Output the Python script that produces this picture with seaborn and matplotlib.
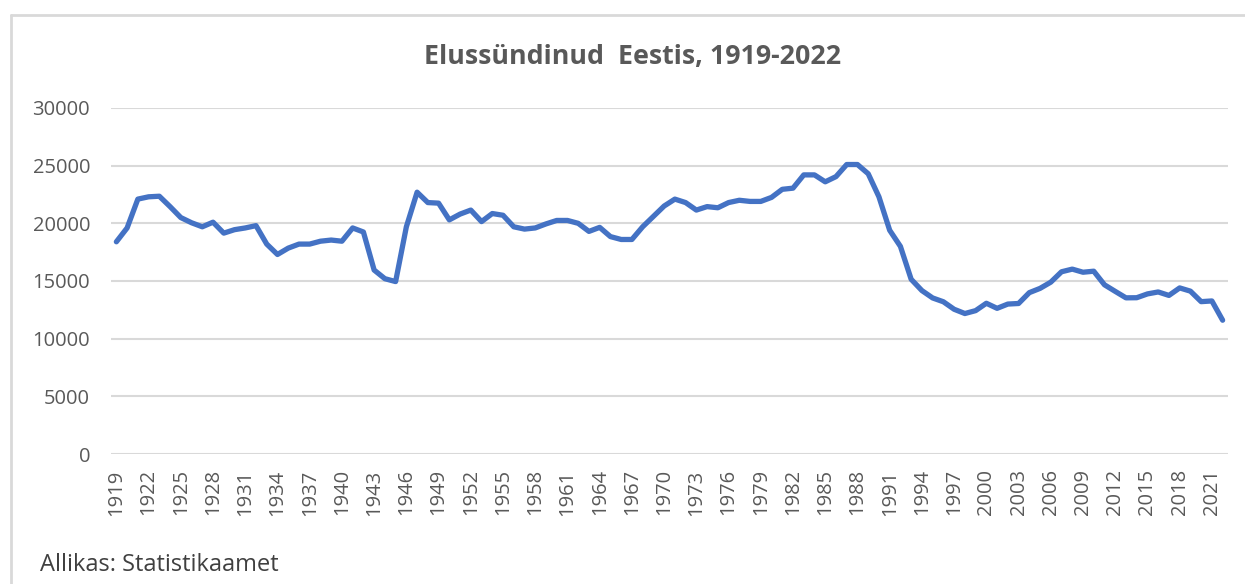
import matplotlib
matplotlib.use("Agg")
import matplotlib.pyplot as plt
import numpy as np
import pandas as pd
import seaborn as sns
from matplotlib.lines import Line2D

# Elussündinud Eestis (births per year)
years = list(range(1919, 2023))
births = [
    18400, 19600, 22100, 22300, 22350, 21450, 20500, 20050, 19700, 20100,  # 1919-1928
    19150, 19450, 19600, 19800, 18200, 17300, 17850, 18200, 18200, 18450,  # 1929-1938
    18550, 18450, 19600, 19250, 15950, 15200, 14950, 19700, 22700, 21800,  # 1939-1948
    21750, 20300, 20800, 21150, 20150, 20850, 20700, 19700, 19500, 19600,  # 1949-1958
    19950, 20250, 20250, 20000, 19300, 19650, 18850, 18600, 18600, 19700,  # 1959-1968
    20600, 21500, 22100, 21800, 21150, 21450, 21350, 21800, 22000, 21900,  # 1969-1978
    21900, 22250, 22950, 23050, 24200, 24200, 23600, 24050, 25100, 25100,  # 1979-1988
    24300, 22300, 19400, 18000, 15150, 14170, 13530, 13200, 12550, 12180,  # 1989-1998
    12430, 13070, 12630, 13000, 13050, 13990, 14360, 14900, 15800, 16030,  # 1999-2008
    15760, 15850, 14670, 14100, 13540, 13550, 13880, 14050, 13750, 14400,  # 2009-2018
    14120, 13210, 13270, 11600,                                            # 2019-2022
]
tick_years = years[::3]
y_ticks = [0, 5000, 10000, 15000, 20000, 25000, 30000]

df = pd.DataFrame({"aasta": years, "elussündinud": births})

sns.set_theme(style="white")
plt.rcParams["font.family"] = ["Open Sans", "DejaVu Sans"]

W, H = 1245, 584
fig = plt.figure(figsize=(W / 100, H / 100), dpi=100)
ax = fig.add_axes([111 / W, 1 - 454 / H, (1228 - 111) / W, (454 - 108) / H])

sns.lineplot(data=df, x="aasta", y="elussündinud", ax=ax,
             color="#4472C4", linewidth=3.8, solid_capstyle="round",
             solid_joinstyle="round")

ax.set_xlim(years[0] - 0.5, years[-1] + 0.5)
ax.set_ylim(0, 30000)
ax.set_yticks(y_ticks)
ax.set_yticklabels([str(v) for v in y_ticks])
ax.set_xticks(tick_years)
ax.set_xticklabels([str(y) for y in tick_years], rotation=90)
ax.set_xlabel("")
ax.set_ylabel("")

ax.yaxis.grid(True, color="#D9D9D9", linewidth=1.5)
ax.xaxis.grid(False)
for s in ax.spines.values():
    s.set_visible(False)
ax.tick_params(axis="both", length=0, labelsize=14.5, labelcolor="#595959")
ax.tick_params(axis="y", pad=15)
ax.tick_params(axis="x", pad=11)

# chart frame (cropped at right/bottom)
fig.add_artist(Line2D([11 / W, 11 / W], [0, 1 - 15 / H], color="#D9D9D9", linewidth=2))
fig.add_artist(Line2D([11 / W, 1], [1 - 15 / H, 1 - 15 / H], color="#D9D9D9", linewidth=2))

fig.text(633 / W, 1 - 57 / H, "Elussündinud  Eestis, 1919-2022",
         ha="center", va="center", fontsize=19.3, fontweight="bold", color="#595959")
fig.text(40 / W, 1 - 565 / H, "Allikas: Statistikaamet",
         ha="left", va="center", fontsize=17, color="#404040")

fig.savefig("out.png", dpi=100)
